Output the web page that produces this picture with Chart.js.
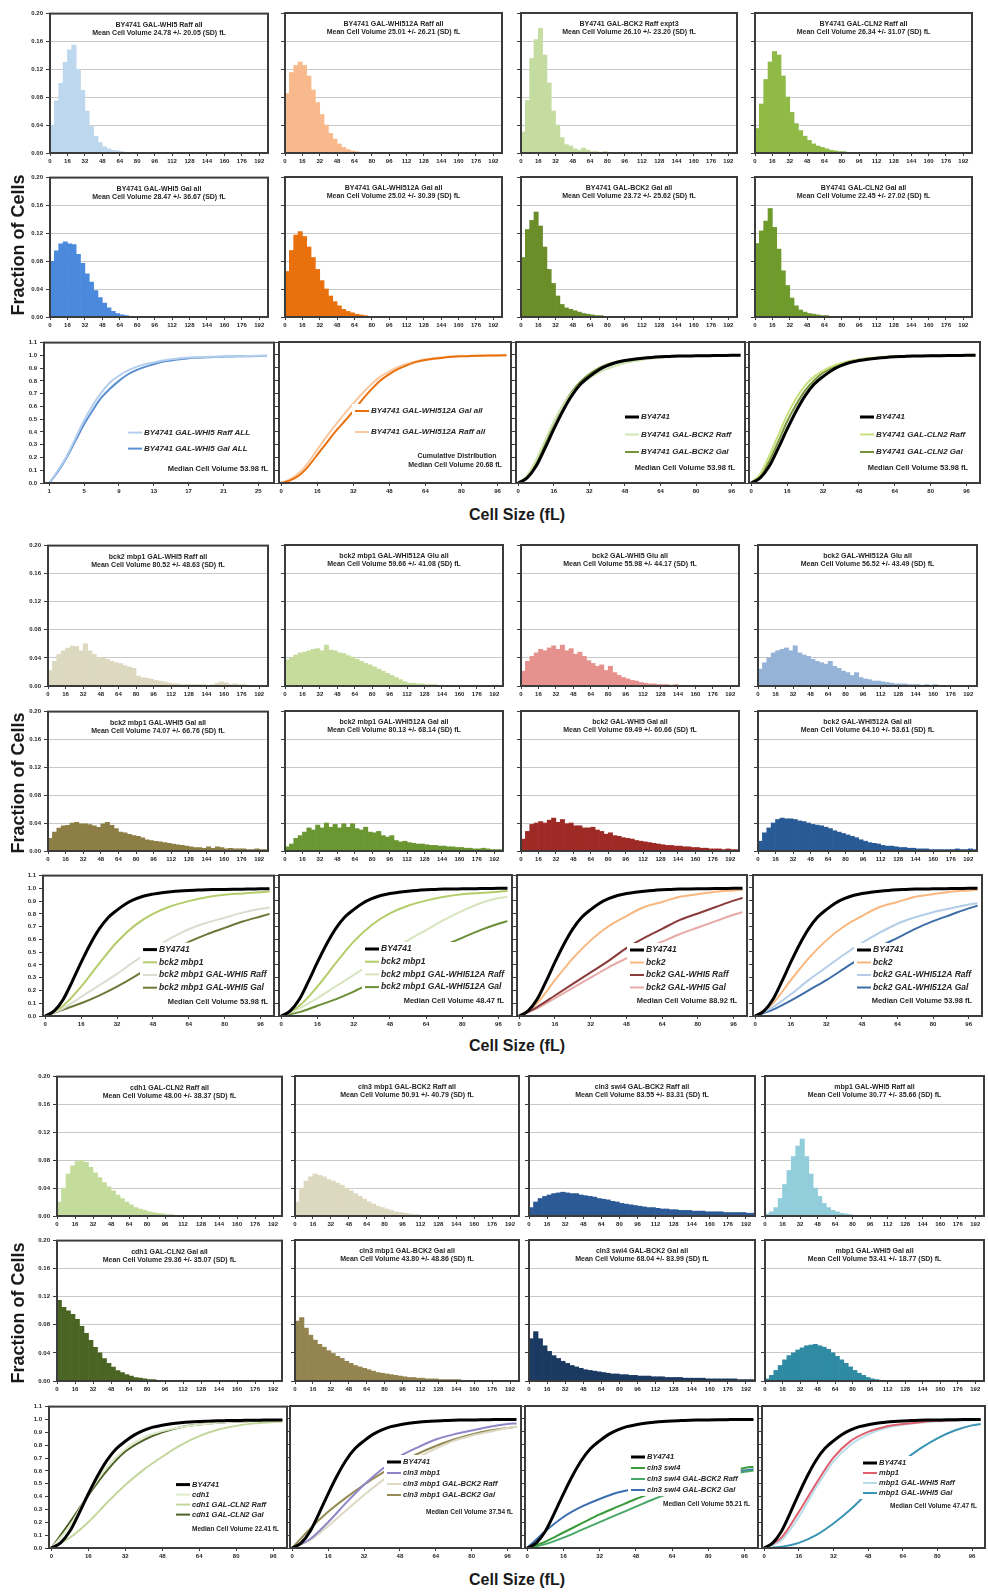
<!DOCTYPE html>
<html>
<head>
<meta charset="utf-8">
<title>Cell size distributions</title>
<script src="https://cdn.jsdelivr.net/npm/chart.js@4.4.0/dist/chart.umd.min.js"></script>
<style>
  body { margin: 0; background: #fff; }
  #page { position: relative; width: 988px; height: 1595px; overflow: hidden; font-family: "Liberation Sans", Arial, sans-serif; }
  .cell { position: absolute; }
  .axis-x { position: absolute; font-weight: bold; font-size: 16px; color: #1a1a1a; transform: translate(-50%, -50%); white-space: nowrap; }
  .axis-y { position: absolute; font-weight: bold; font-size: 18px; color: #1a1a1a; transform: translate(-50%, -50%) rotate(-90deg); white-space: nowrap; }
</style>
</head>
<body>
<div id="page"></div>
<script>
// 坐标刻度
const histTicks = [0, 16, 32, 48, 64, 80, 96, 112, 128, 144, 160, 176, 192]
const histYTicks = [0, 0.04, 0.08, 0.12, 0.16, 0.2]
const cumTicks = [0, 16, 32, 48, 64, 80, 96]
const binTicks = [1, 5, 9, 13, 17, 21, 25]
const cumYTicks = [0, 0.1, 0.2, 0.3, 0.4, 0.5, 0.6, 0.7, 0.8, 0.9, 1.0, 1.1]
const binWidth = 4

// 累积分布的取样点
const fineX = [0, 4, 8, 12, 16, 20, 24, 28, 32, 36, 40, 44, 48, 52, 56, 60, 64, 68, 72, 76, 80, 84, 88, 92, 96, 100]
const binX = [1, 2, 3, 4, 5, 6, 7, 8, 9, 10, 11, 12, 13, 14, 15, 16, 17, 18, 19, 20, 21, 22, 23, 24, 25, 26]
const coarseX = [0, 8, 16, 24, 32, 40, 48, 56, 64, 72, 80, 88, 96, 100]

// 直方图（每格 4 fL）
const whi5Raff = [0.04, 0.075, 0.1, 0.13, 0.148, 0.155, 0.12, 0.09, 0.06, 0.038, 0.024, 0.015, 0.009, 0.006, 0.004, 0.003, 0.002, 0.001]
const whi512aRaff = [0.085, 0.115, 0.125, 0.13, 0.125, 0.11, 0.09, 0.072, 0.055, 0.04, 0.028, 0.02, 0.013, 0.008, 0.005, 0.003, 0.002, 0.001]
const bck2Raff = [0.03, 0.075, 0.135, 0.162, 0.178, 0.14, 0.1, 0.06, 0.04, 0.022, 0.012, 0.01, 0.006, 0.004, 0.007, 0.004, 0.002, 0.002, 0.001, 0.002]
const cln2Raff = [0.035, 0.07, 0.105, 0.13, 0.145, 0.14, 0.11, 0.08, 0.058, 0.042, 0.032, 0.024, 0.018, 0.013, 0.01, 0.008, 0.006, 0.004, 0.003, 0.002, 0.002, 0.001]
const whi5Gal = [0.08, 0.095, 0.105, 0.108, 0.105, 0.104, 0.09, 0.077, 0.062, 0.05, 0.038, 0.028, 0.02, 0.013, 0.008, 0.005, 0.003, 0.002, 0.001]
const whi512aGal = [0.065, 0.095, 0.117, 0.122, 0.115, 0.1, 0.085, 0.068, 0.052, 0.04, 0.03, 0.022, 0.016, 0.011, 0.008, 0.006, 0.004, 0.003, 0.002, 0.001]
const bck2Gal = [0.085, 0.125, 0.138, 0.15, 0.13, 0.1, 0.068, 0.048, 0.03, 0.018, 0.013, 0.011, 0.009, 0.007, 0.005, 0.004, 0.003, 0.002, 0.002, 0.001]
const cln2Gal = [0.105, 0.123, 0.137, 0.155, 0.128, 0.097, 0.066, 0.045, 0.027, 0.016, 0.01, 0.007, 0.005, 0.004, 0.003, 0.002, 0.002, 0.001]

const bck2mbp1Whi5Raff = [0.022, 0.035, 0.045, 0.05, 0.054, 0.057, 0.056, 0.05, 0.06, 0.05, 0.045, 0.041, 0.04, 0.038, 0.035, 0.033, 0.032, 0.029, 0.027, 0.025, 0.014, 0.012, 0.011, 0.01, 0.008, 0.007, 0.006, 0.004, 0.003, 0.003, 0.002, 0.002, 0.002, 0.002, 0.002, 0.002, 0.001, 0.002, 0.004, 0.006, 0.004, 0.002, 0.003, 0.002, 0.002, 0.001, 0.001, 0.001, 0.001, 0.001]
const bck2mbp1Whi512aGlu = [0.037, 0.04, 0.044, 0.047, 0.048, 0.05, 0.052, 0.053, 0.05, 0.058, 0.051, 0.05, 0.047, 0.046, 0.043, 0.041, 0.038, 0.035, 0.032, 0.03, 0.027, 0.024, 0.021, 0.018, 0.015, 0.012, 0.009, 0.006, 0.004, 0.004, 0.003, 0.003, 0.002, 0.002, 0.002, 0.001]
const bck2Whi5Glu = [0.021, 0.035, 0.042, 0.047, 0.052, 0.05, 0.054, 0.057, 0.052, 0.058, 0.05, 0.053, 0.045, 0.048, 0.042, 0.036, 0.032, 0.028, 0.03, 0.022, 0.028, 0.019, 0.015, 0.012, 0.01, 0.008, 0.007, 0.005, 0.004, 0.003, 0.003, 0.002, 0.002, 0.002, 0.001, 0.002, 0.001, 0.001]
const bck2Whi512aGlu = [0.024, 0.033, 0.04, 0.047, 0.05, 0.052, 0.054, 0.05, 0.057, 0.047, 0.044, 0.042, 0.038, 0.035, 0.033, 0.031, 0.035, 0.028, 0.025, 0.021, 0.019, 0.015, 0.019, 0.012, 0.01, 0.009, 0.007, 0.007, 0.006, 0.005, 0.004, 0.003, 0.003, 0.003, 0.002, 0.002, 0.002, 0.001, 0.002, 0.001, 0.002, 0.001, 0.001]
const bck2mbp1Whi5Gal = [0.018, 0.027, 0.033, 0.036, 0.037, 0.04, 0.041, 0.039, 0.039, 0.038, 0.036, 0.034, 0.039, 0.041, 0.037, 0.032, 0.027, 0.026, 0.024, 0.022, 0.021, 0.019, 0.016, 0.015, 0.014, 0.013, 0.012, 0.011, 0.01, 0.009, 0.008, 0.007, 0.006, 0.005, 0.005, 0.004, 0.006, 0.004, 0.006, 0.005, 0.003, 0.004, 0.003, 0.003, 0.003, 0.002, 0.002, 0.003, 0.002, 0.002]
const bck2mbp1Whi512aGal = [0.006, 0.01, 0.018, 0.022, 0.027, 0.033, 0.03, 0.037, 0.033, 0.04, 0.034, 0.038, 0.033, 0.039, 0.034, 0.039, 0.032, 0.03, 0.034, 0.027, 0.026, 0.028, 0.022, 0.02, 0.022, 0.015, 0.013, 0.014, 0.012, 0.011, 0.01, 0.01, 0.009, 0.008, 0.008, 0.007, 0.007, 0.006, 0.006, 0.005, 0.005, 0.004, 0.004, 0.003, 0.003, 0.004, 0.003, 0.002, 0.002, 0.002]
const bck2Whi5Gal = [0.017, 0.028, 0.038, 0.04, 0.042, 0.04, 0.044, 0.047, 0.041, 0.045, 0.039, 0.04, 0.036, 0.036, 0.033, 0.033, 0.034, 0.03, 0.028, 0.024, 0.026, 0.022, 0.021, 0.019, 0.018, 0.017, 0.015, 0.014, 0.013, 0.012, 0.011, 0.01, 0.009, 0.008, 0.008, 0.007, 0.007, 0.006, 0.006, 0.005, 0.005, 0.004, 0.004, 0.003, 0.003, 0.003, 0.002, 0.003, 0.002, 0.002]
const bck2Whi512aGal = [0.014, 0.026, 0.033, 0.04, 0.045, 0.047, 0.046, 0.046, 0.045, 0.043, 0.042, 0.04, 0.038, 0.037, 0.036, 0.034, 0.032, 0.029, 0.027, 0.025, 0.023, 0.021, 0.019, 0.016, 0.014, 0.012, 0.011, 0.01, 0.008, 0.007, 0.007, 0.006, 0.005, 0.005, 0.004, 0.004, 0.003, 0.003, 0.003, 0.002, 0.002, 0.002, 0.002, 0.002, 0.002, 0.003, 0.002, 0.002, 0.003, 0.002]

const cdh1Cln2Raff = [0.02, 0.04, 0.06, 0.072, 0.078, 0.08, 0.077, 0.07, 0.062, 0.055, 0.048, 0.042, 0.036, 0.03, 0.025, 0.02, 0.016, 0.012, 0.01, 0.008, 0.006, 0.005, 0.004, 0.003, 0.002, 0.002, 0.001]
const cln3mbp1Bck2Raff = [0.02, 0.04, 0.05, 0.056, 0.06, 0.058, 0.056, 0.052, 0.05, 0.047, 0.044, 0.04, 0.036, 0.032, 0.028, 0.024, 0.02, 0.017, 0.014, 0.012, 0.01, 0.008, 0.006, 0.005, 0.004, 0.003, 0.002, 0.002, 0.001]
const cln3swi4Bck2Raff = [0.012, 0.02, 0.025, 0.028, 0.03, 0.032, 0.033, 0.034, 0.033, 0.032, 0.032, 0.03, 0.029, 0.028, 0.027, 0.025, 0.024, 0.023, 0.021, 0.02, 0.018, 0.017, 0.016, 0.015, 0.014, 0.013, 0.012, 0.012, 0.011, 0.01, 0.01, 0.009, 0.009, 0.008, 0.008, 0.008, 0.007, 0.007, 0.007, 0.006, 0.006, 0.006, 0.006, 0.005, 0.005, 0.005, 0.005, 0.005, 0.004, 0.004]
const mbp1Whi5Raff = [0.003, 0.006, 0.012, 0.025, 0.045, 0.065, 0.085, 0.1, 0.11, 0.085, 0.06, 0.04, 0.028, 0.018, 0.012, 0.008, 0.006, 0.004, 0.003, 0.002]
const cdh1Cln2Gal = [0.115, 0.105, 0.1, 0.095, 0.088, 0.078, 0.068, 0.058, 0.048, 0.04, 0.032, 0.025, 0.02, 0.015, 0.012, 0.009, 0.007, 0.005, 0.004, 0.003, 0.002, 0.002, 0.001]
const cln3mbp1Bck2Gal = [0.085, 0.09, 0.075, 0.065, 0.058, 0.052, 0.048, 0.043, 0.039, 0.035, 0.032, 0.028, 0.025, 0.022, 0.02, 0.018, 0.016, 0.014, 0.012, 0.011, 0.01, 0.009, 0.008, 0.007, 0.006, 0.005, 0.005, 0.004, 0.004, 0.003, 0.003, 0.003, 0.002, 0.002, 0.002, 0.002, 0.002, 0.001]
const cln3swi4Bck2Gal = [0.06, 0.07, 0.06, 0.05, 0.042, 0.036, 0.032, 0.028, 0.025, 0.022, 0.02, 0.018, 0.016, 0.015, 0.014, 0.013, 0.012, 0.011, 0.01, 0.01, 0.009, 0.009, 0.008, 0.008, 0.007, 0.007, 0.007, 0.006, 0.006, 0.006, 0.005, 0.005, 0.005, 0.005, 0.004, 0.004, 0.004, 0.004, 0.004, 0.003, 0.003, 0.003, 0.003, 0.003, 0.003, 0.003, 0.002, 0.002, 0.002, 0.002]
const mbp1Whi5Gal = [0.003, 0.008, 0.015, 0.022, 0.03, 0.036, 0.04, 0.044, 0.047, 0.05, 0.051, 0.052, 0.05, 0.048, 0.045, 0.04, 0.035, 0.03, 0.025, 0.02, 0.015, 0.011, 0.008, 0.005, 0.003, 0.002, 0.001]

// 累积分布曲线
const by4741Cum = [0, 0.04, 0.13, 0.27, 0.42, 0.56, 0.68, 0.77, 0.83, 0.88, 0.915, 0.94, 0.955, 0.966, 0.974, 0.98, 0.984, 0.987, 0.99, 0.991, 0.992, 0.993, 0.994, 0.995, 0.996, 0.996]
const whi5RaffCum = [0, 0.1, 0.21, 0.35, 0.49, 0.61, 0.71, 0.79, 0.84, 0.88, 0.91, 0.93, 0.945, 0.96, 0.97, 0.977, 0.983, 0.986, 0.988, 0.99, 0.991, 0.993, 0.994, 0.995, 0.996, 0.997]
const whi5GalCum = [0, 0.09, 0.2, 0.33, 0.46, 0.57, 0.67, 0.74, 0.8, 0.85, 0.885, 0.91, 0.93, 0.95, 0.96, 0.97, 0.978, 0.982, 0.985, 0.988, 0.99, 0.992, 0.993, 0.994, 0.995, 0.996]
const whi512aGalCum = [0, 0.02, 0.06, 0.13, 0.22, 0.31, 0.4, 0.48, 0.56, 0.65, 0.73, 0.8, 0.85, 0.89, 0.92, 0.945, 0.96, 0.97, 0.978, 0.984, 0.988, 0.99, 0.992, 0.994, 0.995, 0.996]
const whi512aRaffCum = [0, 0.03, 0.08, 0.16, 0.26, 0.36, 0.45, 0.54, 0.62, 0.7, 0.77, 0.83, 0.87, 0.905, 0.93, 0.95, 0.965, 0.975, 0.982, 0.987, 0.99, 0.992, 0.994, 0.995, 0.996, 0.997]
const bck2RaffCum = [0, 0.06, 0.18, 0.33, 0.48, 0.6, 0.7, 0.77, 0.82, 0.86, 0.89, 0.915, 0.935, 0.95, 0.962, 0.971, 0.978, 0.983, 0.987, 0.99, 0.992, 0.993, 0.994, 0.995, 0.996, 0.996]
const bck2GalCum = [0, 0.05, 0.16, 0.31, 0.47, 0.6, 0.71, 0.79, 0.85, 0.895, 0.925, 0.945, 0.958, 0.968, 0.975, 0.98, 0.984, 0.987, 0.99, 0.991, 0.992, 0.993, 0.994, 0.995, 0.996, 0.996]
const cln2RaffCum = [0, 0.07, 0.21, 0.37, 0.53, 0.66, 0.76, 0.83, 0.875, 0.91, 0.935, 0.952, 0.964, 0.973, 0.979, 0.984, 0.987, 0.99, 0.991, 0.992, 0.993, 0.994, 0.995, 0.996, 0.996, 0.997]
const cln2GalCum = [0, 0.06, 0.17, 0.32, 0.48, 0.61, 0.72, 0.8, 0.86, 0.9, 0.93, 0.95, 0.962, 0.971, 0.978, 0.983, 0.986, 0.989, 0.99, 0.991, 0.992, 0.993, 0.994, 0.995, 0.996, 0.996]

const bck2mbp1Cum = [0, 0.08, 0.23, 0.41, 0.58, 0.71, 0.8, 0.86, 0.9, 0.93, 0.95, 0.96, 0.97, 0.975]
const bck2mbp1Whi5RaffCum = [0, 0.06, 0.15, 0.24, 0.33, 0.43, 0.52, 0.61, 0.68, 0.73, 0.77, 0.81, 0.84, 0.85]
const bck2mbp1Whi5GalCum = [0, 0.05, 0.1, 0.16, 0.23, 0.31, 0.4, 0.5, 0.58, 0.64, 0.69, 0.74, 0.78, 0.8]
const bck2mbp1Whi512aRaffCum = [0, 0.06, 0.14, 0.23, 0.32, 0.41, 0.5, 0.59, 0.67, 0.75, 0.82, 0.88, 0.92, 0.93]
const bck2mbp1Whi512aGalCum = [0, 0.03, 0.08, 0.13, 0.19, 0.26, 0.33, 0.41, 0.48, 0.55, 0.61, 0.67, 0.72, 0.74]
const bck2Cum = [0, 0.1, 0.28, 0.45, 0.59, 0.7, 0.78, 0.85, 0.89, 0.93, 0.95, 0.97, 0.98, 0.985]
const bck2Whi5RaffCum = [0, 0.07, 0.16, 0.25, 0.34, 0.43, 0.53, 0.61, 0.68, 0.75, 0.8, 0.85, 0.9, 0.92]
const bck2Whi5GalCum = [0, 0.06, 0.14, 0.22, 0.3, 0.38, 0.45, 0.52, 0.58, 0.64, 0.69, 0.74, 0.79, 0.81]
const bck2Whi512aRaffCum = [0, 0.07, 0.17, 0.28, 0.38, 0.48, 0.57, 0.65, 0.72, 0.77, 0.81, 0.84, 0.87, 0.88]
const bck2Whi512aGalCum = [0, 0.05, 0.12, 0.2, 0.28, 0.37, 0.46, 0.54, 0.61, 0.68, 0.74, 0.79, 0.84, 0.86]

const cdh1Cum = [0, 0.17, 0.42, 0.63, 0.77, 0.86, 0.91, 0.94, 0.96, 0.975, 0.985, 0.99, 0.993, 0.994]
const cdh1Cln2RaffCum = [0, 0.08, 0.2, 0.35, 0.49, 0.61, 0.71, 0.8, 0.87, 0.92, 0.95, 0.97, 0.98, 0.985]
const cdh1Cln2GalCum = [0, 0.2, 0.41, 0.6, 0.75, 0.84, 0.9, 0.94, 0.96, 0.975, 0.983, 0.988, 0.992, 0.993]
const cln3mbp1Cum = [0, 0.07, 0.2, 0.35, 0.49, 0.61, 0.71, 0.78, 0.84, 0.88, 0.91, 0.94, 0.96, 0.965]
const cln3mbp1Bck2RaffCum = [0, 0.06, 0.17, 0.29, 0.41, 0.52, 0.62, 0.7, 0.77, 0.83, 0.87, 0.9, 0.93, 0.94]
const cln3mbp1Bck2GalCum = [0, 0.15, 0.28, 0.39, 0.49, 0.58, 0.66, 0.73, 0.79, 0.84, 0.88, 0.91, 0.93, 0.94]
const cln3swi4Cum = [0, 0.05, 0.12, 0.19, 0.26, 0.32, 0.38, 0.43, 0.48, 0.52, 0.56, 0.59, 0.62, 0.63]
const cln3swi4Bck2RaffCum = [0, 0.03, 0.08, 0.14, 0.2, 0.26, 0.32, 0.38, 0.43, 0.48, 0.52, 0.56, 0.59, 0.6]
const cln3swi4Bck2GalCum = [0, 0.13, 0.24, 0.32, 0.38, 0.43, 0.46, 0.5, 0.52, 0.55, 0.57, 0.59, 0.6, 0.61]
const mbp1Cum = [0, 0.08, 0.28, 0.5, 0.7, 0.83, 0.9, 0.94, 0.96, 0.975, 0.985, 0.99, 0.993, 0.994]
const mbp1Whi5RaffCum = [0, 0.06, 0.24, 0.47, 0.67, 0.8, 0.88, 0.93, 0.955, 0.97, 0.98, 0.985, 0.99, 0.992]
const mbp1Whi5GalCum = [0, 0.01, 0.04, 0.1, 0.19, 0.3, 0.43, 0.55, 0.67, 0.77, 0.85, 0.91, 0.95, 0.96]

// 版面位置（像素）
const B1 = { hist: [[50, 268], [285, 502], [521, 737], [755, 972]], r1: [13, 153], r2: [177, 317], cum: [[44, 274], [279, 511], [516, 745], [749, 980]], c: [342, 483] }
const B2 = { hist: [[48, 268], [285, 503], [521, 739], [758, 977]], r1: [545, 686], r2: [711, 851], cum: [[43, 274], [279, 512], [517, 747], [753, 982]], c: [875, 1016] }
const B3 = { hist: [[57, 282], [295, 519], [529, 755], [765, 984]], r1: [1076, 1216], r2: [1240, 1381], cum: [[49, 287], [290, 521], [525, 758], [762, 985]], c: [1406, 1548] }

const page = document.getElementById('page')
const FONT = '"Liberation Sans", Arial, sans-serif'
Chart.defaults.font.family = FONT
Chart.defaults.font.weight = 'bold'
Chart.defaults.color = '#262626'
Chart.defaults.animation = false

/**
 * 图内文字、图例和外框
 */
const innerPlugin = {
  id: 'inner',
  afterDatasetsDraw(chart, args, opts) {
    const { ctx, chartArea: a } = chart
    const notes = opts.notes || []
    ctx.save()
    ctx.textBaseline = 'middle'
    if (opts.legend) {
      const L = opts.legend
      const sets = chart.data.datasets
      const x0 = a.left + L.x
      const y0 = a.top + L.y
      ctx.font = `italic bold ${L.size}px ${FONT}`
      const textW = Math.max(...sets.map(ds => ctx.measureText(ds.label).width))
      const right = Math.min(x0 + 16 + textW + 3, a.right - 1)
      const bottom = y0 + L.gap * (sets.length - 1) + 6
      // 白底遮住曲线，宽度只到文字为止
      ctx.fillStyle = '#fff'
      ctx.fillRect(x0 - 3, y0 - 7, right - x0 + 3, bottom - y0 + 7)
      ctx.textAlign = 'left'
      sets.forEach((ds, i) => {
        const y = y0 + i * L.gap
        ctx.strokeStyle = ds.borderColor
        ctx.lineWidth = ds.borderWidth
        ctx.beginPath()
        ctx.moveTo(x0, y)
        ctx.lineTo(x0 + 14, y)
        ctx.stroke()
        ctx.fillStyle = '#262626'
        ctx.fillText(ds.label, x0 + 16, y)
      })
    }
    notes.forEach(n => {
      ctx.font = `bold ${n.size || 7.5}px ${FONT}`
      ctx.textAlign = n.align || 'right'
      let x = a.right - (n.dx || 7)
      if (n.align === 'center') x = n.x != null ? a.left + n.x : (a.left + a.right) / 2
      const y = a.top + n.y
      if (opts.legend) {
        const w = ctx.measureText(n.text).width
        const left = n.align === 'center' ? x - w / 2 : x - w
        ctx.fillStyle = '#fff'
        ctx.fillRect(left - 2, y - 5, w + 4, 10)
      }
      ctx.fillStyle = '#262626'
      ctx.fillText(n.text, x, y)
    })
    ctx.restore()
  },
  afterDraw(chart) {
    const { ctx, chartArea: a } = chart
    ctx.save()
    ctx.strokeStyle = '#3c3c3c'
    ctx.lineWidth = 2
    ctx.strokeRect(a.left, a.top, a.right - a.left, a.bottom - a.top)
    ctx.restore()
  }
}
Chart.register(innerPlugin)

function makeCell(cols, rows, first) {
  const yW = first ? 30 : 6
  const w = cols[1] - cols[0] + yW + 4
  const h = rows[1] - rows[0] + 6 + 18
  const div = document.createElement('div')
  div.className = 'cell'
  div.style.left = (cols[0] - yW) + 'px'
  div.style.top = (rows[0] - 6) + 'px'
  const canvas = document.createElement('canvas')
  canvas.width = w
  canvas.height = h
  div.appendChild(canvas)
  page.appendChild(div)
  return canvas
}

function xScale(ticks, min, max) {
  return {
    type: 'linear',
    min: min,
    max: max,
    offset: false,
    afterBuildTicks: s => { s.ticks = ticks.map(v => ({ value: v })) },
    afterFit: s => { s.height = 18 },
    border: { display: false },
    grid: { offset: false, drawOnChartArea: false, tickLength: 3, tickColor: '#3c3c3c' },
    ticks: { autoSkip: false, maxRotation: 0, padding: 2, font: { size: 6 } }
  }
}

function yScale(ticks, first, grid, digits) {
  return {
    min: 0,
    max: ticks[ticks.length - 1],
    afterBuildTicks: s => { s.ticks = ticks.map(v => ({ value: v })) },
    afterFit: s => { s.width = first ? 30 : 6 },
    border: { display: false },
    grid: { drawOnChartArea: grid, color: '#c8c8c8', lineWidth: 1, tickLength: 4, tickColor: '#3c3c3c' },
    ticks: { display: first, padding: 3, font: { size: 6 }, callback: v => v.toFixed(digits) }
  }
}

/**
 * 画一个直方图
 */
function drawHist(cols, rows, first, values, color, title) {
  const canvas = makeCell(cols, rows, first)
  new Chart(canvas, {
    type: 'bar',
    data: {
      datasets: [{
        data: values.map((v, i) => ({ x: i * binWidth + binWidth / 2, y: v })),
        backgroundColor: color,
        borderWidth: 0,
        barPercentage: 1,
        categoryPercentage: 1
      }]
    },
    options: {
      responsive: false,
      layout: { padding: { top: 6, right: 4, left: 0, bottom: 0 } },
      plugins: {
        legend: { display: false },
        tooltip: { enabled: false },
        inner: {
          notes: [
            { text: title[0], align: 'center', y: 11, size: 7 },
            { text: title[1], align: 'center', y: 19, size: 7 }
          ]
        }
      },
      scales: {
        x: xScale(histTicks, 0, 200),
        y: yScale(histYTicks, first, true, 2)
      }
    }
  })
}

/**
 * 画一个累积分布图
 */
function drawCum(cols, rows, first, lines, legend, notes, axis) {
  const canvas = makeCell(cols, rows, first)
  const ax = axis || { ticks: cumTicks, min: -1, max: 102 }
  new Chart(canvas, {
    type: 'line',
    data: {
      datasets: lines.map(l => ({
        label: l.label,
        data: l.x.map((x, i) => ({ x: x, y: l.y[i] })),
        borderColor: l.color,
        borderWidth: l.width || 2,
        pointRadius: 0,
        cubicInterpolationMode: 'monotone',
        fill: false
      }))
    },
    options: {
      responsive: false,
      layout: { padding: { top: 6, right: 4, left: 0, bottom: 0 } },
      plugins: {
        legend: { display: false },
        tooltip: { enabled: false },
        inner: { legend: legend, notes: notes }
      },
      scales: {
        x: xScale(ax.ticks, ax.min, ax.max),
        y: yScale(cumYTicks, first, false, 1)
      }
    }
  })
}

const by4741 = { label: 'BY4741', x: fineX, y: by4741Cum, color: '#000000', width: 3 }

// 第一组
drawHist(B1.hist[0], B1.r1, true, whi5Raff, '#bdd7ee', ['BY4741 GAL-WHI5 Raff all', 'Mean Cell Volume 24.78 +/- 20.05 (SD) fL'])
drawHist(B1.hist[1], B1.r1, false, whi512aRaff, '#f8b98c', ['BY4741 GAL-WHI512A Raff all', 'Mean Cell Volume 25.01 +/- 26.21 (SD) fL'])
drawHist(B1.hist[2], B1.r1, false, bck2Raff, '#c4dca0', ['BY4741 GAL-BCK2 Raff expt3', 'Mean Cell Volume 26.10 +/- 23.20 (SD) fL'])
drawHist(B1.hist[3], B1.r1, false, cln2Raff, '#8fba45', ['BY4741 GAL-CLN2 Raff all', 'Mean Cell Volume 26.34 +/- 31.07 (SD) fL'])
drawHist(B1.hist[0], B1.r2, true, whi5Gal, '#4a89dc', ['BY4741 GAL-WHI5 Gal all', 'Mean Cell Volume 28.47 +/- 36.67 (SD) fL'])
drawHist(B1.hist[1], B1.r2, false, whi512aGal, '#e8710e', ['BY4741 GAL-WHI512A Gal all', 'Mean Cell Volume 25.02 +/- 30.39 (SD) fL'])
drawHist(B1.hist[2], B1.r2, false, bck2Gal, '#6b8e2a', ['BY4741 GAL-BCK2 Gal all', 'Mean Cell Volume 23.72 +/- 25.62 (SD) fL'])
drawHist(B1.hist[3], B1.r2, false, cln2Gal, '#6f9a2c', ['BY4741 GAL-CLN2 Gal all', 'Mean Cell Volume 22.45 +/- 27.02 (SD) fL'])

drawCum(B1.cum[0], B1.c, true, [
  { label: 'BY4741 GAL-WHI5 Raff ALL', x: binX, y: whi5RaffCum, color: '#b4cfee' },
  { label: 'BY4741 GAL-WHI5 Gal ALL', x: binX, y: whi5GalCum, color: '#5b8fd0' }
], { x: 84, y: 90, gap: 16, size: 8 }, [{ text: 'Median Cell Volume 53.98 fL', y: 126, dx: 6 }], { ticks: binTicks, min: 0.4, max: 26.8 })
drawCum(B1.cum[1], B1.c, false, [
  { label: 'BY4741 GAL-WHI512A Gal all', x: fineX, y: whi512aGalCum, color: '#e8710e' },
  { label: 'BY4741 GAL-WHI512A Raff all', x: fineX, y: whi512aRaffCum, color: '#fac8a0' }
], { x: 76, y: 69, gap: 21, size: 8 }, [
  { text: 'Cumulative Distribution', align: 'center', x: 178, y: 114, size: 7 },
  { text: 'Median Cell Volume 20.68 fL', align: 'center', x: 176, y: 123, size: 7 }
])
drawCum(B1.cum[2], B1.c, false, [
  by4741,
  { label: 'BY4741 GAL-BCK2 Raff', x: fineX, y: bck2RaffCum, color: '#d2e6b4' },
  { label: 'BY4741 GAL-BCK2 Gal', x: fineX, y: bck2GalCum, color: '#76923c' }
], { x: 109, y: 75, gap: 17.5, size: 8 }, [{ text: 'Median Cell Volume 53.98 fL', y: 126, dx: 10 }])
drawCum(B1.cum[3], B1.c, false, [
  by4741,
  { label: 'BY4741 GAL-CLN2 Raff', x: fineX, y: cln2RaffCum, color: '#c8e07a' },
  { label: 'BY4741 GAL-CLN2 Gal', x: fineX, y: cln2GalCum, color: '#76923c' }
], { x: 111, y: 75, gap: 17.5, size: 8 }, [{ text: 'Median Cell Volume 53.98 fL', y: 126, dx: 12 }])

// 第二组
drawHist(B2.hist[0], B2.r1, true, bck2mbp1Whi5Raff, '#ddd8c0', ['bck2 mbp1 GAL-WHI5 Raff all', 'Mean Cell Volume 80.52 +/- 48.63 (SD) fL'])
drawHist(B2.hist[1], B2.r1, false, bck2mbp1Whi512aGlu, '#c5dc9c', ['bck2 mbp1 GAL-WHI512A Glu all', 'Mean Cell Volume 59.66 +/- 41.08 (SD) fL'])
drawHist(B2.hist[2], B2.r1, false, bck2Whi5Glu, '#e6918e', ['bck2 GAL-WHI5 Glu all', 'Mean Cell Volume 55.98 +/- 44.17 (SD) fL'])
drawHist(B2.hist[3], B2.r1, false, bck2Whi512aGlu, '#95b3d7', ['bck2 GAL-WHI512A Glu all', 'Mean Cell Volume 56.52 +/- 43.49 (SD) fL'])
drawHist(B2.hist[0], B2.r2, true, bck2mbp1Whi5Gal, '#8c7e45', ['bck2 mbp1 GAL-WHI5 Gal all', 'Mean Cell Volume 74.07 +/- 66.76 (SD) fL'])
drawHist(B2.hist[1], B2.r2, false, bck2mbp1Whi512aGal, '#6a9732', ['bck2 mbp1 GAL-WHI512A Gal all', 'Mean Cell Volume 80.13 +/- 68.14 (SD) fL'])
drawHist(B2.hist[2], B2.r2, false, bck2Whi5Gal, '#9e2a26', ['bck2 GAL-WHI5 Gal all', 'Mean Cell Volume 69.49 +/- 60.66 (SD) fL'])
drawHist(B2.hist[3], B2.r2, false, bck2Whi512aGal, '#285a96', ['bck2 GAL-WHI512A Gal all', 'Mean Cell Volume 64.10 +/- 53.61 (SD) fL'])

const bck2mbp1 = { label: 'bck2 mbp1', x: coarseX, y: bck2mbp1Cum, color: '#b5cc6a' }
const bck2 = { label: 'bck2', x: coarseX, y: bck2Cum, color: '#f7b77e' }
drawCum(B2.cum[0], B2.c, true, [
  by4741, bck2mbp1,
  { label: 'bck2 mbp1 GAL-WHI5 Raff', x: coarseX, y: bck2mbp1Whi5RaffCum, color: '#dcdcd0' },
  { label: 'bck2 mbp1 GAL-WHI5 Gal', x: coarseX, y: bck2mbp1Whi5GalCum, color: '#6b7a3a' }
], { x: 100, y: 74, gap: 12.7, size: 8.5 }, [{ text: 'Median Cell Volume 53.98 fL', y: 126, dx: 6 }])
drawCum(B2.cum[1], B2.c, false, [
  by4741, bck2mbp1,
  { label: 'bck2 mbp1 GAL-WHI512A Raff', x: coarseX, y: bck2mbp1Whi512aRaffCum, color: '#d7e4bd' },
  { label: 'bck2 mbp1 GAL-WHI512A Gal', x: coarseX, y: bck2mbp1Whi512aGalCum, color: '#6b8e35' }
], { x: 86, y: 74, gap: 12.7, size: 8.5 }, [{ text: 'Median Cell Volume 48.47 fL', y: 126, dx: 8 }])
drawCum(B2.cum[2], B2.c, false, [
  by4741, bck2,
  { label: 'bck2 GAL-WHI5 Raff', x: coarseX, y: bck2Whi5RaffCum, color: '#8b3a3a' },
  { label: 'bck2 GAL-WHI5 Gal', x: coarseX, y: bck2Whi5GalCum, color: '#e6aaa8' }
], { x: 113, y: 75, gap: 12.5, size: 8.5 }, [{ text: 'Median Cell Volume 88.92 fL', y: 126, dx: 10 }])
drawCum(B2.cum[3], B2.c, false, [
  by4741, bck2,
  { label: 'bck2 GAL-WHI512A Raff', x: coarseX, y: bck2Whi512aRaffCum, color: '#b3cde8' },
  { label: 'bck2 GAL-WHI512A Gal', x: coarseX, y: bck2Whi512aGalCum, color: '#3f6ea8' }
], { x: 104, y: 75, gap: 12.5, size: 8.5 }, [{ text: 'Median Cell Volume 53.98 fL', y: 126, dx: 10 }])

// 第三组
drawHist(B3.hist[0], B3.r1, true, cdh1Cln2Raff, '#c3dc9b', ['cdh1 GAL-CLN2 Raff all', 'Mean Cell Volume 48.00 +/- 38.37 (SD) fL'])
drawHist(B3.hist[1], B3.r1, false, cln3mbp1Bck2Raff, '#ddd8c0', ['cln3 mbp1 GAL-BCK2 Raff all', 'Mean Cell Volume 50.91 +/- 40.79 (SD) fL'])
drawHist(B3.hist[2], B3.r1, false, cln3swi4Bck2Raff, '#2b5a96', ['cln3 swi4 GAL-BCK2 Raff all', 'Mean Cell Volume 83.55 +/- 83.31 (SD) fL'])
drawHist(B3.hist[3], B3.r1, false, mbp1Whi5Raff, '#92cddc', ['mbp1 GAL-WHI5 Raff all', 'Mean Cell Volume 30.77 +/- 35.66 (SD) fL'])
drawHist(B3.hist[0], B3.r2, true, cdh1Cln2Gal, '#4a6424', ['cdh1 GAL-CLN2 Gal all', 'Mean Cell Volume 29.36 +/- 35.07 (SD) fL'])
drawHist(B3.hist[1], B3.r2, false, cln3mbp1Bck2Gal, '#948550', ['cln3 mbp1 GAL-BCK2 Gal all', 'Mean Cell Volume 43.80 +/- 48.86 (SD) fL'])
drawHist(B3.hist[2], B3.r2, false, cln3swi4Bck2Gal, '#1b3a62', ['cln3 swi4 GAL-BCK2 Gal all', 'Mean Cell Volume 68.04 +/- 83.99 (SD) fL'])
drawHist(B3.hist[3], B3.r2, false, mbp1Whi5Gal, '#2f8aa3', ['mbp1 GAL-WHI5 Gal all', 'Mean Cell Volume 53.41 +/- 18.77 (SD) fL'])

drawCum(B3.cum[0], B3.c, true, [
  by4741,
  { label: 'cdh1', x: coarseX, y: cdh1Cum, color: '#dfeccb' },
  { label: 'cdh1 GAL-CLN2 Raff', x: coarseX, y: cdh1Cln2RaffCum, color: '#c3d69b' },
  { label: 'cdh1 GAL-CLN2 Gal', x: coarseX, y: cdh1Cln2GalCum, color: '#4f6228' }
], { x: 127, y: 78, gap: 10, size: 7.5 }, [{ text: 'Median Cell Volume 22.41 fL', y: 123, dx: 8, size: 6.5 }])
drawCum(B3.cum[1], B3.c, false, [
  by4741,
  { label: 'cln3 mbp1', x: coarseX, y: cln3mbp1Cum, color: '#8e86c6' },
  { label: 'cln3 mbp1 GAL-BCK2 Raff', x: coarseX, y: cln3mbp1Bck2RaffCum, color: '#ddd9c3' },
  { label: 'cln3 mbp1 GAL-BCK2 Gal', x: coarseX, y: cln3mbp1Bck2GalCum, color: '#948a54' }
], { x: 97, y: 56, gap: 11, size: 7.5 }, [{ text: 'Median Cell Volume 37.54 fL', y: 106, dx: 8, size: 6.5 }])
drawCum(B3.cum[2], B3.c, false, [
  by4741,
  { label: 'cln3 swi4', x: coarseX, y: cln3swi4Cum, color: '#3a9a3a' },
  { label: 'cln3 swi4 GAL-BCK2 Raff', x: coarseX, y: cln3swi4Bck2RaffCum, color: '#48a868' },
  { label: 'cln3 swi4 GAL-BCK2 Gal', x: coarseX, y: cln3swi4Bck2GalCum, color: '#3d6fb0' }
], { x: 106, y: 51, gap: 11, size: 7.5 }, [{ text: 'Median Cell Volume 55.21 fL', y: 98, dx: 8, size: 6.5 }])
drawCum(B3.cum[3], B3.c, false, [
  by4741,
  { label: 'mbp1', x: coarseX, y: mbp1Cum, color: '#e06070' },
  { label: 'mbp1 GAL-WHI5 Raff', x: coarseX, y: mbp1Whi5RaffCum, color: '#b7dee8' },
  { label: 'mbp1 GAL-WHI5 Gal', x: coarseX, y: mbp1Whi5GalCum, color: '#3a95b5' }
], { x: 101, y: 57, gap: 10, size: 7.5 }, [{ text: 'Median Cell Volume 47.47 fL', y: 100, dx: 8, size: 6.5 }])

// 轴标题
function addLabel(cls, text, x, y) {
  const el = document.createElement('div')
  el.className = cls
  el.textContent = text
  el.style.left = x + 'px'
  el.style.top = y + 'px'
  page.appendChild(el)
}
;[245, 783, 1313].forEach(y => addLabel('axis-y', 'Fraction of Cells', 18, y))
;[515, 1046, 1580].forEach(y => addLabel('axis-x', 'Cell Size (fL)', 517, y))
</script>
</body>
</html>
